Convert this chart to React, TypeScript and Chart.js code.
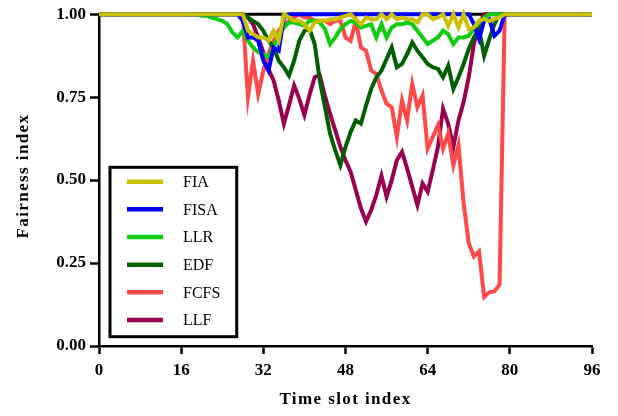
import React, { useEffect, useRef } from "react";
import { Chart, registerables } from "chart.js";

Chart.register(...registerables);

// Time slot index (x values)
const TIME_SLOTS: number[] = Array.from({ length: 97 }, (_, i) => i);
const X_TICKS = [0, 16, 32, 48, 64, 80, 96];
const Y_TICKS = [0, 0.25, 0.5, 0.75, 1];

const SERIES_NAMES = ["FIA", "FISA", "LLR", "EDF", "FCFS", "LLF"];
const SERIES_COLORS = ["#C8C000", "#0000FF", "#11CC11", "#005F00", "#FF4848", "#990050"];

const FIA = [
  1, 1, 1, 1, 1, 1, 1, 1, 1, 1,
  1, 1, 1, 1, 1, 1, 1, 1, 1, 1,
  1, 1, 1, 1, 1, 1, 1, 1,
  1, 0.95, 0.94, 0.93, 0.93, 0.92, 0.95, 0.92,
  1, 0.99, 0.98, 0.98, 0.97, 0.95, 0.975, 0.98, 0.98, 0.985,
  0.985, 0.99, 0.995, 1, 0.985, 0.97, 0.99, 0.985, 0.985, 1,
  0.985, 1, 0.985, 0.99, 0.985, 0.985, 0.975, 1, 1, 0.985,
  0.99, 1, 0.965, 1, 0.96, 1, 0.955, 0.96, 0.98, 0.985,
  0.98, 0.985, 0.99, 1, 1, 1, 1, 1, 1, 1,
  1, 1, 1, 1, 1, 1, 1, 1, 1, 1, 1,
];

const FISA = [
  1, 1, 1, 1, 1, 1, 1, 1, 1, 1,
  1, 1, 1, 1, 1, 1, 1, 1, 1, 1,
  1, 1, 1, 1, 1, 1, 1, 1,
  0.98, 0.93, 0.93, 0.92, 0.86, 0.83, 0.9, 0.89, 0.99,
  1, 1, 1, 1, 1, 1, 1, 1, 1, 1,
  1, 1, 1, 1, 1, 1, 1, 1, 1, 1,
  1, 1, 1, 1, 1, 1, 1, 1, 1, 1,
  1, 1, 1, 1, 1, 1,
  0.97, 0.925, 0.98, 0.985, 0.935, 0.95, 1,
  1, 1, 1, 1, 1, 1, 1, 1, 1, 1,
  1, 1, 1, 1, 1, 1, 1,
];

const LLR = [
  1, 1, 1, 1, 1, 1, 1, 1, 1, 1,
  1, 1, 1, 1, 1, 1, 1, 1, 1, 1,
  0.995, 0.995, 0.99, 0.985, 0.98, 0.97, 0.945, 0.93, 0.95, 0.92,
  0.9, 0.885, 0.88, 0.87, 0.9, 0.94, 0.96, 0.975, 0.975, 0.97,
  0.965, 0.98, 0.98, 0.975, 0.955, 0.91, 0.93, 0.955, 0.97, 0.98,
  0.975, 0.96, 0.965, 0.97, 0.93, 0.97, 0.93, 0.96, 0.97, 0.97,
  0.975, 0.97, 0.95, 0.93, 0.91, 0.92, 0.93, 0.95, 0.94, 0.91,
  0.93, 0.93, 0.935, 0.955, 0.975, 0.99,
  1, 1, 1, 1, 1, 1, 1, 1, 1, 1,
  1, 1, 1, 1, 1, 1, 1, 1, 1, 1, 1,
];

const EDF = [
  1, 1, 1, 1, 1, 1, 1, 1, 1, 1,
  1, 1, 1, 1, 1, 1, 1, 1, 1, 1,
  1, 1, 1, 1, 1, 1, 1, 1, 1,
  0.99, 0.98, 0.97, 0.95, 0.92, 0.9, 0.86, 0.84, 0.815, 0.86,
  0.92, 0.95, 0.955, 0.91, 0.8, 0.72, 0.64, 0.59, 0.545, 0.6,
  0.645, 0.68, 0.67, 0.725, 0.775, 0.81, 0.83, 0.865, 0.9, 0.84,
  0.85, 0.88, 0.915, 0.89, 0.87, 0.85, 0.84, 0.835, 0.81, 0.845,
  0.775, 0.81, 0.85, 0.895, 0.93, 0.955, 0.875, 0.925, 0.97, 1,
  1, 1, 1, 1, 1, 1, 1, 1, 1, 1,
  1, 1, 1, 1, 1, 1, 1, 1,
];

const FCFS = [
  1, 1, 1, 1, 1, 1, 1, 1, 1, 1,
  1, 1, 1, 1, 1, 1, 1, 1, 1, 1,
  1, 1, 1, 1, 1, 1, 1, 1, 1,
  0.75, 0.86, 0.76, 0.83, 0.88, 0.92, 0.95, 0.97, 0.98, 0.99,
  1, 0.99, 0.99, 0.98, 0.98, 0.98, 0.97, 0.98, 0.98, 0.93,
  0.92, 0.98, 0.9, 0.89, 0.83, 0.82, 0.77, 0.73, 0.72, 0.63,
  0.74, 0.68, 0.79, 0.72, 0.755, 0.595, 0.63, 0.665, 0.595, 0.64,
  0.545, 0.605, 0.43, 0.31, 0.27, 0.285, 0.148, 0.162, 0.165, 0.185,
  1, 1, 1, 1, 1, 1, 1, 1, 1, 1,
  1, 1, 1, 1, 1, 1, 1, 1,
];

const LLF = [
  1, 1, 1, 1, 1, 1, 1, 1, 1, 1,
  1, 1, 1, 1, 1, 1, 1, 1, 1, 1,
  1, 1, 1, 1, 1, 1, 1, 1, 1,
  0.99, 0.97, 0.93, 0.885, 0.835, 0.8, 0.74, 0.67, 0.726, 0.785,
  0.745, 0.696, 0.757, 0.81, 0.816, 0.753, 0.7, 0.65, 0.6, 0.56,
  0.525, 0.47, 0.415, 0.375, 0.41, 0.455, 0.513, 0.45, 0.5, 0.56,
  0.585, 0.535, 0.48, 0.425, 0.49, 0.465, 0.53, 0.6, 0.715, 0.67,
  0.6, 0.68, 0.735, 0.81, 0.91, 0.97, 1,
  1, 1, 1, 1, 1, 1, 1, 1, 1, 1,
  1, 1, 1, 1, 1, 1, 1, 1, 1, 1, 1,
];

const SERIES_VALUES = [FIA, FISA, LLR, EDF, FCFS, LLF];

const X_TITLE = "Time slot index";
const Y_TITLE = "Fairness index";

const SERIF = "'Liberation Serif', 'Times New Roman', Times, serif";

const decorPlugin = {
  id: "decor",
  beforeDatasetsDraw(chart: any) {
    const { ctx, chartArea, scales } = chart;
    const y = scales.y.getPixelForValue(1);
    ctx.save();
    ctx.strokeStyle = "#000";
    ctx.lineWidth = 3;
    ctx.beginPath();
    ctx.moveTo(chartArea.left, y);
    ctx.lineTo(chartArea.right, y);
    ctx.stroke();
    ctx.restore();
  },
  afterDraw(chart: any) {
    const { ctx, chartArea } = chart;
    ctx.save();
    // axis titles
    ctx.fillStyle = "#000";
    ctx.font = `bold 17px ${SERIF}`;
    (ctx as any).letterSpacing = "1.4px";
    ctx.textAlign = "center";
    ctx.textBaseline = "middle";
    ctx.fillText(X_TITLE, (chartArea.left + chartArea.right) / 2, 400);
    ctx.save();
    ctx.translate(23.5, 176);
    ctx.rotate(-Math.PI / 2);
    ctx.fillText(Y_TITLE, 0, 0);
    ctx.restore();
    (ctx as any).letterSpacing = "0px";

    // legend box
    const bx = 110, by = 167.3, bw = 126.7, bh = 169.4;
    ctx.fillStyle = "#fff";
    ctx.fillRect(bx, by, bw, bh);
    ctx.strokeStyle = "#000";
    ctx.lineWidth = 3;
    ctx.strokeRect(bx, by, bw, bh);
    ctx.font = `16px ${SERIF}`;
    ctx.textAlign = "left";
    ctx.textBaseline = "middle";
    SERIES_NAMES.forEach((name, i) => {
      const ry = 181.7 + 27.66 * i;
      ctx.strokeStyle = SERIES_COLORS[i];
      ctx.lineWidth = 4.5;
      ctx.beginPath();
      ctx.moveTo(127, ry);
      ctx.lineTo(163, ry);
      ctx.stroke();
      ctx.fillStyle = "#000";
      ctx.fillText(name, 183, ry + 1);
    });
    ctx.restore();
  },
};

export default function App() {
  const canvasRef = useRef<HTMLCanvasElement | null>(null);

  useEffect(() => {
    const canvas = canvasRef.current;
    if (!canvas) return;
    const tickFont = { family: SERIF, size: 17, weight: "bold" as const };
    const chart = new Chart(canvas, {
      type: "line",
      data: {
        datasets: SERIES_NAMES.map((name, si) => ({
          label: name,
          data: TIME_SLOTS.map((x, i) => ({ x, y: SERIES_VALUES[si][i] })),
          borderColor: SERIES_COLORS[si],
          backgroundColor: SERIES_COLORS[si],
          borderWidth: 4,
          pointRadius: 0,
          tension: 0,
          fill: false,
          clip: false as any,
          borderJoinStyle: "miter" as const,
        })),
      },
      options: {
        animation: false,
        responsive: false,
        layout: { padding: { left: 0, top: 14, right: 26, bottom: 0 } },
        plugins: { legend: { display: false }, tooltip: { enabled: false } },
        scales: {
          x: {
            type: "linear",
            min: 0,
            max: 96,
            afterFit: (s: any) => {
              s.height = 70;
            },
            afterBuildTicks: (s: any) => {
              s.ticks = X_TICKS.map((v) => ({ value: v }));
            },
            ticks: {
              font: tickFont,
              color: "#000",
              padding: 6,
              maxRotation: 0,
              autoSkip: false,
              callback: (v: any) => String(v),
            },
            grid: {
              drawOnChartArea: false,
              drawTicks: true,
              tickLength: 8,
              tickWidth: 2.5,
              tickColor: "#000",
            },
            border: { display: true, color: "#000", width: 2.5 },
          },
          y: {
            type: "linear",
            min: 0,
            max: 1,
            afterFit: (s: any) => {
              s.width = 99;
            },
            afterBuildTicks: (s: any) => {
              s.ticks = Y_TICKS.map((v) => ({ value: v }));
            },
            ticks: {
              font: tickFont,
              color: "#000",
              padding: 4,
              autoSkip: false,
              callback: (v: any) => Number(v).toFixed(2),
            },
            grid: {
              drawOnChartArea: false,
              drawTicks: true,
              tickLength: 9,
              tickWidth: 2.5,
              tickColor: "#000",
            },
            border: { display: true, color: "#000", width: 2.5 },
          },
        },
      },
      plugins: [decorPlugin],
    });
    return () => chart.destroy();
  }, []);

  return (
    <div
      style={{
        position: "fixed",
        left: 0,
        top: 0,
        width: 618,
        height: 416,
        background: "#fff",
      }}
    >
      <canvas ref={canvasRef} width={618} height={416} style={{ display: "block" }} />
    </div>
  );
}
